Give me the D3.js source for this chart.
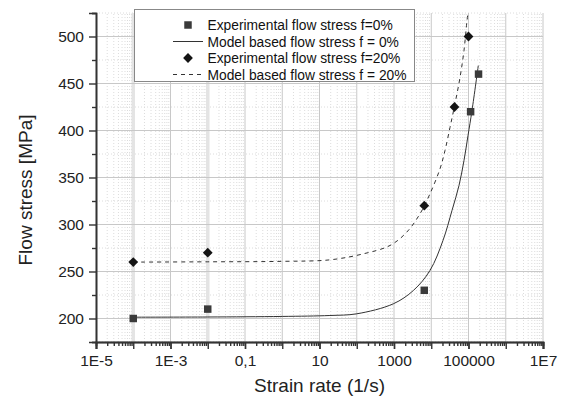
<!DOCTYPE html>
<html>
<head>
<meta charset="utf-8">
<script src="https://cdn.jsdelivr.net/npm/d3@7"></script>
<style>
  body { margin: 0; background: #fff; }
  svg { display: block; font-family: Arial, "Liberation Sans", sans-serif; }
</style>
</head>
<body>
<svg width="561" height="400"></svg>
<script>
// experimental points
const exp0Rate = [1e-4, 1e-2, 6500, 114000, 186000];
const exp0Stress = [200, 210, 230, 420, 460];
const exp20Rate = [1e-4, 1e-2, 6500, 42000, 100000];
const exp20Stress = [260, 270, 320, 425, 500];

// model curves
const model0Rate = [1e-4, 1e-2, 1, 19, 100, 955, 3310, 9250, 20650, 36060, 55590, 75680, 97050, 124200, 183200];
const model0Stress = [201.4, 201.6, 202.2, 203.2, 205, 215.6, 229.8, 251.1, 283, 314.9, 341.5, 368.1, 394.7, 421.3, 469.1];
const model20Rate = [1e-4, 1e-2, 1, 19, 150, 782, 2190, 4990, 9250, 17180, 23390, 31840, 43450, 59160, 75680, 91200, 97050];
const model20Stress = [260, 260.3, 260.8, 262.4, 268.8, 277.7, 291.8, 311.4, 332.7, 359.3, 378.7, 403.2, 428.7, 456.4, 485.1, 517, 524.5];

const xTickValues = [1e-5, 1e-3, 1e-1, 10, 1000, 100000, 1e7];
const xTickLabels = ["1E-5", "1E-3", "0,1", "10", "1000", "100000", "1E7"];
const yTickValues = [200, 250, 300, 350, 400, 450, 500];

const legendLabels = [
  "Experimental flow stress f=0%",
  "Model based flow stress f = 0%",
  "Experimental flow stress f=20%",
  "Model based flow stress f = 20%"
];

const svg = d3.select("svg");
const margin = { left: 96, right: 18, top: 13, bottom: 58 };
const W = 561, H = 400;

const x = d3.scaleLog()
  .domain([1e-5, 1e7])
  .range([margin.left, W - margin.right]);

const y = d3.scaleLinear()
  .domain([175, 525])
  .range([H - margin.bottom, margin.top]);

const [x0, x1] = x.range();
const [y0, y1] = y.range();

svg.append("defs").append("clipPath").attr("id", "clip")
  .append("rect").attr("x", x0).attr("y", y1).attr("width", x1 - x0).attr("height", y0 - y1);

// grid
const decades = d3.range(-5, 8).map(e => Math.pow(10, e));
const minorX = [];
decades.slice(0, -1).forEach(d => { for (let k = 2; k <= 9; k++) minorX.push(d * k); });

const grid = svg.append("g");
grid.selectAll(".mx").data(minorX).enter().append("line")
  .attr("x1", d => x(d)).attr("x2", d => x(d))
  .attr("y1", y0).attr("y2", y1)
  .attr("stroke", "#dcdcdc").attr("stroke-dasharray", "1,2");
grid.selectAll(".my").data(d3.range(175, 526, 50)).enter().append("line")
  .attr("x1", x0).attr("x2", x1)
  .attr("y1", d => y(d)).attr("y2", d => y(d))
  .attr("stroke", "#dcdcdc").attr("stroke-dasharray", "1,2");
grid.selectAll(".wx").data([1e-4, 1e-2]).enter().append("line")
  .attr("x1", d => x(d)).attr("x2", d => x(d))
  .attr("y1", y0).attr("y2", y1)
  .attr("stroke", "#e4e4e4").attr("stroke-width", 3.5);
grid.selectAll(".Mx").data(decades.filter(d => d > 1e-5 && d !== 1e-4 && d !== 1e-2)).enter().append("line")
  .attr("x1", d => x(d)).attr("x2", d => x(d))
  .attr("y1", y0).attr("y2", y1)
  .attr("stroke", "#c8c8c8");
grid.selectAll(".My").data(yTickValues).enter().append("line")
  .attr("x1", x0).attr("x2", x1)
  .attr("y1", d => y(d)).attr("y2", d => y(d))
  .attr("stroke", "#c8c8c8");

// model lines
const line = d3.line()
  .x(d => x(d[0]))
  .y(d => y(d[1]))
  .curve(d3.curveCatmullRom.alpha(0.5));

const plot = svg.append("g").attr("clip-path", "url(#clip)");
plot.append("path")
  .attr("d", line(d3.zip(model0Rate, model0Stress)))
  .attr("fill", "none").attr("stroke", "#333").attr("stroke-width", 1);
plot.append("path")
  .attr("d", line(d3.zip(model20Rate, model20Stress)))
  .attr("fill", "none").attr("stroke", "#333").attr("stroke-width", 1)
  .attr("stroke-dasharray", "4,4");

// markers
const square = d3.symbol().type(d3.symbolSquare).size(56);
const diamond = d3.symbol().type(d3.symbolSquare).size(48);

svg.append("g").selectAll("path").data(d3.zip(exp0Rate, exp0Stress)).enter().append("path")
  .attr("d", square())
  .attr("transform", d => `translate(${x(d[0])},${y(d[1])})`)
  .attr("fill", "#3a3a3a");
svg.append("g").selectAll("path").data(d3.zip(exp20Rate, exp20Stress)).enter().append("path")
  .attr("d", diamond())
  .attr("transform", d => `translate(${x(d[0])},${y(d[1])}) rotate(45)`)
  .attr("fill", "#141414");

// axes
const xAxis = svg.append("g")
  .attr("transform", `translate(0,${y0})`)
  .call(d3.axisBottom(x).tickValues(minorX).tickSize(4).tickFormat(""));
xAxis.call(g => g.append("g").call(d3.axisBottom(x).tickValues(decades).tickSize(7).tickFormat("")));
xAxis.call(g => g.append("g").call(d3.axisBottom(x).tickValues(xTickValues).tickSize(7)
  .tickFormat((d, i) => xTickLabels[i])));

const yAxis = svg.append("g")
  .attr("transform", `translate(${x0},0)`)
  .call(d3.axisLeft(y).tickValues(d3.range(175, 526, 50)).tickSize(4).tickFormat(""));
yAxis.call(g => g.append("g").call(d3.axisLeft(y).tickValues(yTickValues).tickSize(7)));

svg.selectAll(".domain").attr("stroke", "#333").attr("stroke-width", 1.6);
svg.selectAll(".tick line").attr("stroke", "#333").attr("stroke-width", 1.4);
svg.selectAll(".tick text").attr("font-size", "15.5px").attr("fill", "#222")
  .attr("font-family", "Arial, 'Liberation Sans', sans-serif");
xAxis.selectAll(".tick text").attr("dy", null).attr("y", 24);
yAxis.selectAll(".tick text").attr("x", -12);

// axis titles
svg.append("text")
  .attr("x", (x0 + x1) / 2).attr("y", 392)
  .attr("text-anchor", "middle").attr("font-size", "19px").attr("fill", "#222")
  .text("Strain rate (1/s)");
svg.append("text")
  .attr("transform", "translate(32,190) rotate(-90)")
  .attr("text-anchor", "middle").attr("font-size", "19px").attr("fill", "#222")
  .text("Flow stress [MPa]");

// legend
const legend = svg.append("g");
legend.append("rect")
  .attr("x", 134.5).attr("y", 9.5).attr("width", 280).attr("height", 72)
  .attr("fill", "#fff").attr("stroke", "#888");

const rows = legend.selectAll(".row").data(legendLabels).enter().append("g")
  .attr("transform", (d, i) => `translate(0,${25 + i * 16.5})`);
rows.append("text")
  .attr("x", 207.5).attr("y", 5)
  .attr("font-size", "13.8px").attr("fill", "#111")
  .text(d => d);

rows.filter((d, i) => i === 0).append("path")
  .attr("d", square()).attr("transform", "translate(188,0)").attr("fill", "#3a3a3a");
rows.filter((d, i) => i === 2).append("path")
  .attr("d", diamond()).attr("transform", "translate(188,0) rotate(45)").attr("fill", "#141414");
rows.filter((d, i) => i === 1 || i === 3).append("line")
  .attr("x1", 173).attr("x2", 203)
  .attr("stroke", "#333")
  .attr("stroke-dasharray", (d, i) => i === 1 ? "4,4" : null);
</script>
</body>
</html>
